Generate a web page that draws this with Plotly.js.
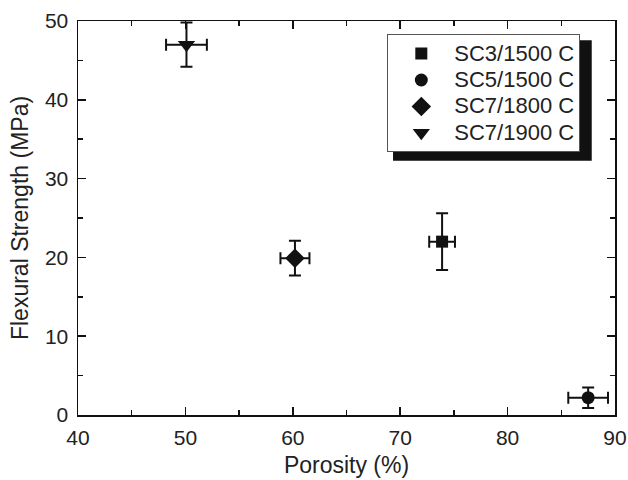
<!DOCTYPE html>
<html>
<head>
<meta charset="utf-8">
<script src="https://cdn.plot.ly/plotly-3.0.1.min.js"></script>
<style>html,body{margin:0;padding:0;background:#fff;}#chart{width:628px;height:480px;}</style>
</head>
<body>
<div id="chart"></div>
<script>
// Data
const seriesNames = ['SC3/1500 C', 'SC5/1500 C', 'SC7/1800 C', 'SC7/1900 C'];
const symbols = ['square', 'circle', 'diamond', 'triangle-down'];
const markerSizes = [12, 13, 15, 15];
const porosity = [73.9, 87.5, 60.2, 50.1];
const porosityErr = [1.2, 1.85, 1.35, 1.9];
const strength = [22.0, 2.2, 19.9, 47.0];
const strengthErr = [3.6, 1.3, 2.2, 2.8];

const traces = seriesNames.map((name, i) => ({
  type: 'scatter',
  mode: 'markers',
  name: '<span style="font-size:22px">' + name + '</span>',
  x: [porosity[i]],
  y: [strength[i]],
  error_x: {type: 'data', array: [porosityErr[i]], color: '#111', thickness: 2, width: 6},
  error_y: {type: 'data', array: [strengthErr[i]], color: '#111', thickness: 2, width: 6},
  marker: {symbol: symbols[i], size: markerSizes[i], color: '#111', line: {width: 0}}
}));

const axisCommon = {
  showline: true, linecolor: '#111', linewidth: 1.5, mirror: 'ticks',
  ticks: 'inside', ticklen: 8, tickwidth: 1.5, tickcolor: '#111',
  showgrid: false, zeroline: false,
  tickfont: {family: 'Liberation Sans, Arial, sans-serif', size: 21, color: '#222'},
  minor: {ticks: 'inside', ticklen: 5, tickwidth: 1.5, tickcolor: '#111', dtick: 5, showgrid: false}
};

const layout = {
  width: 628, height: 480,
  margin: {l: 77.5, r: 12.7, t: 20.7, b: 64.7},
  paper_bgcolor: '#fff', plot_bgcolor: '#fff',
  font: {family: 'Liberation Sans, Arial, sans-serif', color: '#222'},
  xaxis: Object.assign({}, axisCommon, {
    range: [40, 90], dtick: 10, tick0: 40, ticklabelstandoff: 3,
    title: {text: 'Porosity (%)', font: {size: 23, color: '#222'}, standoff: 9}
  }),
  yaxis: Object.assign({}, axisCommon, {
    range: [0, 50], dtick: 10, tick0: 0, ticklabelstandoff: 4,
    title: {text: 'Flexural Strength (MPa)', font: {size: 23, color: '#222'}, standoff: 10}
  }),
  showlegend: true,
  legend: {
    x: 0.576, y: 0.966, xanchor: 'left', yanchor: 'top',
    bgcolor: '#fff', bordercolor: '#555', borderwidth: 1,
    font: {family: 'Liberation Sans, Arial, sans-serif', size: 18, color: '#222'},
    itemwidth: 56
  },
  shapes: [{
    type: 'rect', xref: 'paper', yref: 'paper', layer: 'above',
    x0: (393 - 77.5) / 537.8, x1: (592 - 77.5) / 537.8,
    y0: (415.3 - 160.7) / 394.6, y1: (415.3 - 40) / 394.6,
    fillcolor: '#111', line: {width: 0}
  }]
};

Plotly.newPlot('chart', traces, layout, {displayModeBar: false, staticPlot: true});
</script>
</body>
</html>
